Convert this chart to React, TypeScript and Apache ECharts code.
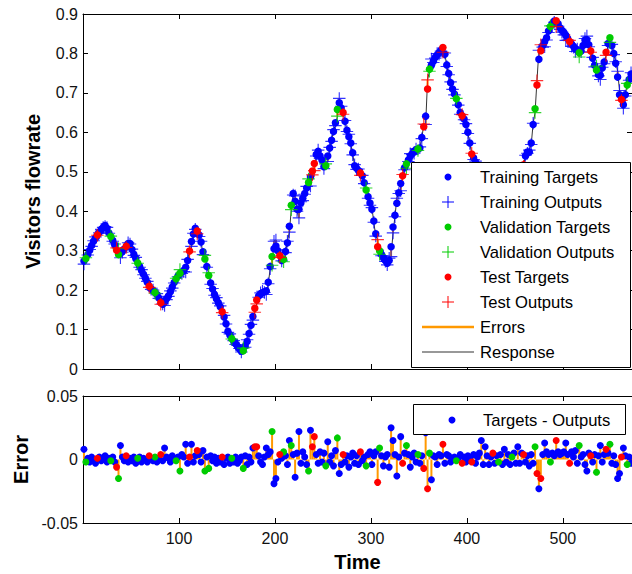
import React, { useEffect, useRef } from "react";
import * as echarts from "echarts";

// Sampled every 2 time steps (t = 1, 3, 5, ...)
const STEP = 2;
const TIME_MAX = 572;

const targets = [
  0.274, 0.280, 0.290, 0.301, 0.313, 0.324, 0.332, 0.340, 0.347, 0.353,
  0.359, 0.364, 0.357, 0.345, 0.336, 0.326, 0.315, 0.301, 0.290, 0.293,
  0.298, 0.304, 0.311, 0.318, 0.318, 0.303, 0.290, 0.280, 0.269, 0.260,
  0.250, 0.240, 0.230, 0.220, 0.210, 0.203, 0.199, 0.194, 0.189, 0.180,
  0.168, 0.164, 0.170, 0.178, 0.185, 0.196, 0.208, 0.219, 0.229, 0.236,
  0.243, 0.246, 0.249, 0.258, 0.275, 0.299, 0.323, 0.342, 0.357, 0.350,
  0.340, 0.322, 0.297, 0.279, 0.260, 0.237, 0.218, 0.203, 0.189, 0.178,
  0.168, 0.158, 0.145, 0.132, 0.115, 0.095, 0.086, 0.077, 0.070, 0.064,
  0.057, 0.051, 0.045, 0.046, 0.058, 0.070, 0.090, 0.111, 0.133, 0.154,
  0.175, 0.185, 0.191, 0.193, 0.196, 0.198, 0.220, 0.260, 0.285, 0.305,
  0.312, 0.300, 0.287, 0.275, 0.278, 0.298, 0.320, 0.362, 0.415, 0.445,
  0.425, 0.405, 0.405, 0.421, 0.433, 0.445, 0.459, 0.473, 0.487, 0.502,
  0.521, 0.544, 0.552, 0.540, 0.530, 0.513, 0.515, 0.540, 0.560, 0.580,
  0.602, 0.624, 0.658, 0.675, 0.662, 0.650, 0.628, 0.605, 0.589, 0.573,
  0.548, 0.515, 0.509, 0.503, 0.497, 0.490, 0.472, 0.454, 0.437, 0.421,
  0.405, 0.375, 0.343, 0.310, 0.300, 0.290, 0.282, 0.275, 0.268, 0.275,
  0.310, 0.360, 0.390, 0.420, 0.447, 0.470, 0.490, 0.510, 0.520, 0.530,
  0.540, 0.546, 0.552, 0.556, 0.558, 0.560, 0.587, 0.614, 0.641, 0.710,
  0.760, 0.770, 0.780, 0.790, 0.796, 0.802, 0.809, 0.815, 0.798, 0.771,
  0.749, 0.726, 0.710, 0.697, 0.685, 0.670, 0.650, 0.642, 0.634, 0.620,
  0.600, 0.573, 0.545, 0.535, 0.524, 0.517, 0.511, 0.505, 0.499, 0.493,
  0.488, 0.484, 0.480, 0.476, 0.472, 0.469, 0.467, 0.465, 0.463, 0.461,
  0.461, 0.464, 0.468, 0.472, 0.477, 0.483, 0.491, 0.499, 0.507, 0.518,
  0.540, 0.550, 0.550, 0.573, 0.620, 0.660, 0.720, 0.785, 0.807, 0.820,
  0.830, 0.840, 0.857, 0.868, 0.875, 0.882, 0.883, 0.875, 0.865, 0.859,
  0.853, 0.846, 0.838, 0.830, 0.824, 0.818, 0.812, 0.808, 0.802, 0.806,
  0.820, 0.834, 0.835, 0.822, 0.806, 0.788, 0.770, 0.758, 0.746, 0.745,
  0.763, 0.778, 0.803, 0.825, 0.840, 0.820, 0.800, 0.775, 0.740, 0.695,
  0.683, 0.670, 0.695, 0.720, 0.734, 0.748,
];

// errors = targets - outputs
const errors = [
  0.008, -0.002, 0.001, -0.002, 0.002, -0.001, -0.003, 0.001, 0.002, -0.001,
  0.000, 0.003, -0.002, 0.001, -0.001, 0.002, -0.002, -0.006, -0.015, 0.011,
  0.002, -0.001, 0.003, -0.002, 0.001, -0.001, 0.002, -0.003, 0.001, 0.002,
  -0.002, 0.001, 0.000, -0.002, 0.003, 0.001, -0.001, 0.002, -0.002, 0.001,
  0.004, -0.001, 0.009, 0.002, 0.001, -0.002, 0.003, 0.001, -0.001, 0.002,
  -0.009, 0.004, 0.002, 0.012, -0.003, 0.002, 0.012, -0.002, 0.003, 0.007,
  0.004, -0.002, 0.007, -0.009, 0.002, -0.007, 0.003, -0.001, 0.002, -0.003,
  0.001, -0.002, 0.002, -0.004, 0.001, 0.002, -0.003, 0.001, -0.002, 0.002,
  -0.003, -0.001, 0.002, -0.007, 0.003, -0.004, 0.002, -0.002, 0.009, 0.010,
  0.010, 0.003, -0.002, -0.004, 0.002, 0.009, 0.004, 0.006, 0.022, -0.019,
  -0.015, -0.002, 0.004, 0.001, 0.006, 0.003, -0.004, 0.015, 0.011, 0.004,
  -0.014, 0.005, 0.022, -0.003, 0.006, 0.002, -0.004, -0.009, 0.023, 0.010,
  0.018, 0.004, -0.003, 0.006, -0.002, 0.005, -0.005, 0.014, -0.002, 0.003,
  -0.005, 0.007, 0.017, -0.011, -0.004, 0.004, -0.002, 0.003, -0.006, 0.002,
  0.005, -0.003, 0.003, -0.004, 0.006, -0.001, 0.002, -0.005, 0.004, 0.006,
  -0.004, 0.003, 0.006, -0.018, 0.009, 0.003, -0.005, 0.002, 0.004, -0.006,
  0.025, 0.015, 0.004, -0.013, 0.002, 0.018, -0.003, 0.005, 0.011, 0.004,
  -0.006, 0.002, 0.005, -0.002, 0.004, -0.003, 0.003, -0.007, 0.021, -0.023,
  0.005, -0.016, 0.003, 0.002, -0.004, 0.004, 0.003, 0.012, -0.003, 0.004,
  0.003, -0.002, 0.001, 0.002, -0.001, 0.001, 0.004, -0.003, 0.002, -0.002,
  0.003, 0.001, -0.002, 0.004, -0.003, 0.002, 0.005, 0.015, -0.004, 0.010,
  0.003, -0.004, 0.002, 0.005, -0.003, 0.003, -0.002, 0.004, -0.004, 0.008,
  -0.002, 0.004, -0.004, 0.002, 0.005, -0.003, 0.010, -0.003, 0.005, 0.004,
  -0.002, 0.003, -0.005, 0.004, -0.003, 0.010, -0.011, -0.023, -0.015, 0.004,
  0.013, 0.006, 0.004, -0.002, 0.005, 0.003, 0.015, 0.006, 0.004, 0.005,
  0.006, 0.013, 0.004, -0.003, 0.006, 0.002, 0.007, -0.003, 0.011, 0.002,
  0.004, -0.004, -0.009, 0.005, 0.003, -0.002, 0.004, -0.010, 0.003, 0.011,
  -0.002, 0.004, 0.008, 0.005, 0.012, -0.003, 0.003, -0.004, -0.015, -0.011,
  0.002, 0.009, 0.003, -0.004, 0.002, -0.003,
];

// b = training, g = validation, r = test
const sets = (
  "bgbbbbbrbb" + "bbbbgbbrgb" + "bbrbbbbbgb" + "bbbbrbbgbb" + "rbbbbbbbgb" +
  "gbbbbrbbbr" + "bbbgbgbbbb" + "bbrbbbbgbb" + "bbbgbbbbbr" + "rbbbbbbbgb" +
  "bbrbgbbbgb" + "bbbbbbbgbr" + "rbbbbbgbbb" + "bbgbbrbbbb" + "bbbbrbbgbb" +
  "bbbrgbbbbb" + "bbbbbbrbgb" + "bbbbgbbrbr" + "gbbbbbbrbb" + "bbbbgbbrbb" +
  "bbrbbbbbbb" + "bbbrbbgbbb" + "bbbgbbbbbr" + "bbbbbgrbrb" + "bbbgbbrbbb" +
  "bbbrbbbbgb" + "bbbbrbbgbb" + "bbrbgbbbbb" + "rbbgbb"
).split("");

const yTopTicks = { min: 0, max: 0.9, interval: 0.1 };
const yErrTicks = { min: -0.05, max: 0.05, interval: 0.05 };

const legendTop = [
  { label: "Training Targets", kind: "dot", color: "#0000ff" },
  { label: "Training Outputs", kind: "plus", color: "#0000ff" },
  { label: "Validation Targets", kind: "dot", color: "#00cc00" },
  { label: "Validation Outputs", kind: "plus", color: "#00cc00" },
  { label: "Test Targets", kind: "dot", color: "#ff0000" },
  { label: "Test Outputs", kind: "plus", color: "#ff0000" },
  { label: "Errors", kind: "line", color: "#ff9900" },
  { label: "Response", kind: "line", color: "#333333" },
];

const SET_COLORS: Record<string, string> = { b: "#0000ff", g: "#00cc00", r: "#ff0000" };
const FONT = '"Liberation Sans", Arial, Helvetica, sans-serif';
const PLUS = "path://M4.55,0H5.45V10H4.55Z M0,4.55H10V5.45H0Z";

export default function App() {
  const ref = useRef<HTMLDivElement>(null);
  useEffect(() => {
    if (!ref.current) return;
    const chart = echarts.init(ref.current, undefined, { renderer: "svg" });

    const times = targets.map((_, i) => 1 + STEP * i);
    const outputs = targets.map((v, i) => v - errors[i]);

    const seriesForSet = (s: string) => {
      const idx = times.map((_, i) => i).filter((i) => sets[i] === s);
      return {
        tgt: idx.map((i) => [times[i], targets[i]]),
        out: idx.map((i) => [times[i], outputs[i]]),
        err: idx.map((i) => [times[i], errors[i]]),
      };
    };

    const axisCommon = {
      axisLine: { show: true, onZero: false, lineStyle: { color: "#000", width: 1 } },
      axisTick: { show: true, inside: true, length: 5, lineStyle: { color: "#000" } },
      splitLine: { show: false },
    };
    const labelStyle = { color: "#111", fontSize: 16, fontFamily: FONT };

    const topSeries: any[] = [];
    const botSeries: any[] = [];

    topSeries.push({
      type: "line",
      xAxisIndex: 0,
      yAxisIndex: 0,
      data: times.map((t, i) => [t, outputs[i]]),
      showSymbol: false,
      symbol: "none",
      lineStyle: { color: "#000", width: 0.8 },
      z: 1,
    });
    topSeries.push({
      type: "custom",
      xAxisIndex: 0,
      yAxisIndex: 0,
      data: times.map((t, i) => [t, targets[i], outputs[i]]),
      encode: { x: 0, y: [1, 2] },
      renderItem: (_p: any, api: any) => {
        const a = api.coord([api.value(0), api.value(1)]);
        const b = api.coord([api.value(0), api.value(2)]);
        return {
          type: "line",
          shape: { x1: a[0], y1: a[1], x2: b[0], y2: b[1] },
          style: { stroke: "#ff9900", lineWidth: 2 },
        };
      },
      z: 2,
    });
    botSeries.push({
      type: "custom",
      xAxisIndex: 2,
      yAxisIndex: 2,
      data: times.map((t, i) => [t, errors[i]]),
      encode: { x: 0, y: 1 },
      renderItem: (_p: any, api: any) => {
        const a = api.coord([api.value(0), 0]);
        const b = api.coord([api.value(0), api.value(1)]);
        return {
          type: "line",
          shape: { x1: a[0], y1: a[1], x2: b[0], y2: b[1] },
          style: { stroke: "#ff9900", lineWidth: 2 },
        };
      },
      z: 2,
    });

    ["b", "g", "r"].forEach((s, k) => {
      const d = seriesForSet(s);
      const c = SET_COLORS[s];
      topSeries.push({
        type: "scatter",
        xAxisIndex: 0,
        yAxisIndex: 0,
        data: d.tgt,
        symbol: "circle",
        symbolSize: 7.5,
        itemStyle: { color: c, opacity: 1 },
        z: 3 + k * 2,
      });
      topSeries.push({
        type: "scatter",
        xAxisIndex: 0,
        yAxisIndex: 0,
        data: d.out,
        symbol: PLUS,
        symbolSize: 12.5,
        itemStyle: { color: c, opacity: 0.8 },
        z: 4 + k * 2,
      });
      botSeries.push({
        type: "scatter",
        xAxisIndex: 2,
        yAxisIndex: 2,
        data: d.err,
        symbol: "circle",
        symbolSize: 7,
        itemStyle: { color: c, opacity: 1 },
        z: 3 + k,
      });
    });

    const graphics: any[] = [];
    // top legend
    graphics.push({
      type: "rect",
      shape: { x: 411.5, y: 162.5, width: 219, height: 205 },
      style: { fill: "#fff", stroke: "#000", lineWidth: 1 },
      z: 100,
    });
    legendTop.forEach((it, i) => {
      const y = 177 + i * 25;
      if (it.kind === "dot") {
        graphics.push({ type: "circle", shape: { cx: 448, cy: y, r: 3.5 }, style: { fill: it.color }, z: 101 });
      } else if (it.kind === "plus") {
        graphics.push({ type: "line", shape: { x1: 442, y1: y, x2: 454, y2: y }, style: { stroke: it.color, lineWidth: 1 }, z: 101 });
        graphics.push({ type: "line", shape: { x1: 448, y1: y - 6, x2: 448, y2: y + 6 }, style: { stroke: it.color, lineWidth: 1 }, z: 101 });
      } else {
        graphics.push({
          type: "line",
          shape: { x1: 422, y1: y, x2: 474, y2: y },
          style: { stroke: it.color, lineWidth: it.label === "Errors" ? 2.5 : 1.2 },
          z: 101,
        });
      }
      graphics.push({
        type: "text",
        x: 480,
        y: y,
        style: { text: it.label, fill: "#000", fontSize: 16.6, fontFamily: FONT, verticalAlign: "middle", align: "left" },
        z: 101,
      });
    });
    // bottom legend
    graphics.push({
      type: "rect",
      shape: { x: 413.5, y: 404.5, width: 212, height: 30 },
      style: { fill: "#fff", stroke: "#000", lineWidth: 1 },
      z: 100,
    });
    graphics.push({ type: "circle", shape: { cx: 452, cy: 420, r: 3.5 }, style: { fill: "#0000ff" }, z: 101 });
    graphics.push({
      type: "text",
      x: 483,
      y: 420,
      style: { text: "Targets - Outputs", fill: "#000", fontSize: 16.6, fontFamily: FONT, verticalAlign: "middle", align: "left" },
      z: 101,
    });

    const xFmt = (v: number) => (v > 0 && v % 100 === 0 ? String(v) : "");

    chart.setOption({
      animation: false,
      backgroundColor: "#fff",
      grid: [
        { left: 83, top: 14, width: 549, height: 355 },
        { left: 83, top: 396, width: 549, height: 127 },
      ],
      xAxis: [
        { ...axisCommon, type: "value", gridIndex: 0, position: "bottom", min: 0, max: TIME_MAX, interval: 100, axisLabel: { show: false } },
        { ...axisCommon, type: "value", gridIndex: 0, position: "top", min: 0, max: TIME_MAX, interval: 100, axisLabel: { show: false } },
        {
          ...axisCommon,
          type: "value",
          gridIndex: 1,
          position: "bottom",
          min: 0,
          max: TIME_MAX,
          interval: 100,
          axisLabel: { ...labelStyle, margin: 7, formatter: xFmt, showMaxLabel: false },
          name: "Time",
          nameLocation: "middle",
          nameGap: 29,
          nameTextStyle: { fontSize: 20, fontWeight: "bold", color: "#000", fontFamily: FONT },
        },
        { ...axisCommon, type: "value", gridIndex: 1, position: "top", min: 0, max: TIME_MAX, interval: 100, axisLabel: { show: false } },
      ],
      yAxis: [
        {
          ...axisCommon,
          type: "value",
          gridIndex: 0,
          position: "left",
          ...yTopTicks,
          axisLabel: { ...labelStyle, margin: 5 },
          name: "Visitors flowrate",
          nameLocation: "middle",
          nameGap: 40,
          nameTextStyle: { fontSize: 20, fontWeight: "bold", color: "#000", fontFamily: FONT },
        },
        { ...axisCommon, type: "value", gridIndex: 0, position: "right", ...yTopTicks, axisLabel: { show: false } },
        {
          ...axisCommon,
          type: "value",
          gridIndex: 1,
          position: "left",
          ...yErrTicks,
          axisLabel: { ...labelStyle, margin: 5 },
          name: "Error",
          nameLocation: "middle",
          nameGap: 52,
          nameTextStyle: { fontSize: 20, fontWeight: "bold", color: "#000", fontFamily: FONT },
        },
        { ...axisCommon, type: "value", gridIndex: 1, position: "right", ...yErrTicks, axisLabel: { show: false } },
      ],
      series: [...topSeries, ...botSeries],
      graphic: graphics,
    });

    return () => chart.dispose();
  }, []);

  return <div ref={ref} style={{ position: "fixed", left: 0, top: 0, width: 632, height: 574, background: "#fff" }} />;
}
